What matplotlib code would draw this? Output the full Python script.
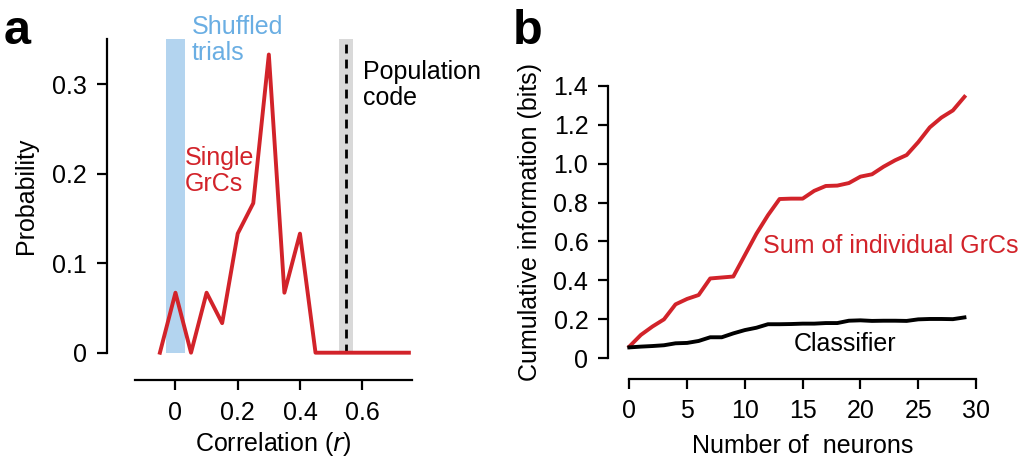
import numpy as np
import matplotlib
matplotlib.use("Agg")
from matplotlib import pyplot as plt

plt.rcParams['font.family'] = ['Liberation Sans', 'DejaVu Sans']

# panel a: correlation histogram of single GrCs
corr_r = [-0.05, 0.0, 0.05, 0.10, 0.15, 0.20, 0.25, 0.30, 0.35, 0.40, 0.45,
          0.50, 0.55, 0.60, 0.65, 0.70, 0.75]
prob = [0.0, 0.067, 0.0, 0.067, 0.033, 0.133, 0.167, 0.333, 0.067, 0.133, 0.0,
        0.0, 0.0, 0.0, 0.0, 0.0, 0.0]
shuffled_band = (-0.03, 0.03)
population_band = (0.525, 0.572)
population_r = 0.548

# panel b: cumulative information vs number of neurons
n_neurons = list(range(30))
info_sum = [0.06, 0.12, 0.163, 0.20, 0.277, 0.305, 0.325, 0.41, 0.415, 0.42,
            0.53, 0.64, 0.735, 0.818, 0.82, 0.82, 0.86, 0.885, 0.887, 0.90,
            0.933, 0.945, 0.984, 1.017, 1.044, 1.11, 1.186, 1.236, 1.273, 1.343]
info_clf = [0.056, 0.06, 0.063, 0.067, 0.077, 0.079, 0.089, 0.108, 0.108, 0.128,
            0.145, 0.157, 0.175, 0.175, 0.176, 0.178, 0.178, 0.181, 0.181, 0.193,
            0.195, 0.192, 0.193, 0.193, 0.192, 0.20, 0.202, 0.202, 0.201, 0.21]

RED = '#d2232a'
BLUE_TXT = '#6aaee3'
BLUE_BAND = '#b3d4ef'
GREY_BAND = '#d9d9d9'

W, H = 1024, 461
fig = plt.figure(figsize=(W / 100, H / 100), dpi=100)


def box(x0, x1, ytop, ybot):
    return [x0 / W, 1 - ybot / H, (x1 - x0) / W, (ybot - ytop) / H]


def style(ax, outward):
    for s in ('top', 'right'):
        ax.spines[s].set_visible(False)
    for s in ('left', 'bottom'):
        ax.spines[s].set_position(('outward', outward))
        ax.spines[s].set_linewidth(1.6)
    ax.tick_params(direction='out', length=7.5, width=1.6, labelsize=18, pad=7)


'''panel a'''
ax_a = fig.add_axes(box(135, 412, 39.3, 352.7))
ax_a.axvspan(*shuffled_band, ymin=0, ymax=1, color=BLUE_BAND, lw=0)
ax_a.axvspan(*population_band, ymin=0, ymax=1, color=GREY_BAND, lw=0)
ax_a.axvline(population_r, color='k', lw=2, ls=(0, (3.2, 2.2)))
ax_a.plot(corr_r, prob, color=RED, lw=2.8, clip_on=False)
ax_a.set_xlim(-0.13, 0.76)
ax_a.set_ylim(0, 0.35)
ax_a.set_xticks([0, 0.2, 0.4, 0.6])
ax_a.set_xticklabels(['0', '0.2', '0.4', '0.6'])
ax_a.set_yticks([0, 0.1, 0.2, 0.3])
ax_a.set_yticklabels(['0', '0.1', '0.2', '0.3'])
style(ax_a, 20)
ax_a.set_xlabel('Correlation ($\\mathit{r}$)', fontsize=18, labelpad=4)
ax_a.set_ylabel('Probability', fontsize=18, labelpad=10)

ax_a.text(0.052, 0.377, 'Shuffled\ntrials', color=BLUE_TXT, fontsize=18,
          ha='left', va='top', linespacing=1.1, clip_on=False)
ax_a.text(0.603, 0.327, 'Population\ncode', color='k', fontsize=18,
          ha='left', va='top', linespacing=1.1, clip_on=False)
ax_a.text(0.03, 0.231, 'Single\nGrCs', color=RED, fontsize=18,
          ha='left', va='top', linespacing=1.1)

'''panel b'''
ax_b = fig.add_axes(box(629.3, 976, 85.7, 358.3))
ax_b.plot(n_neurons, info_sum, color=RED, lw=2.8, clip_on=False)
ax_b.plot(n_neurons, info_clf, color='k', lw=2.8, clip_on=False)
ax_b.set_xlim(0, 30)
ax_b.set_ylim(0, 1.4)
ax_b.set_xticks(range(0, 31, 5))
ax_b.set_yticks(np.arange(0, 1.41, 0.2))
ax_b.set_yticklabels(['0', '0.2', '0.4', '0.6', '0.8', '1.0', '1.2', '1.4'])
style(ax_b, 15)
ax_b.set_xlabel('Number of  neurons', fontsize=18, labelpad=8)
ax_b.set_ylabel('Cumulative information (bits)', fontsize=18, labelpad=8)

ax_b.text(11.57, 0.576, 'Sum of individual GrCs', color=RED, fontsize=18,
          ha='left', va='center', clip_on=False)
ax_b.text(14.2, 0.073, 'Classifier', color='k', fontsize=18,
          ha='left', va='center')

'''panel letters'''
fig.text(4 / W, 1 - 44 / H, 'a', fontsize=35, fontweight='bold', ha='left', va='baseline')
fig.text(513 / W, 1 - 44 / H, 'b', fontsize=35, fontweight='bold', ha='left', va='baseline')

fig.savefig('out.png', dpi=100)
